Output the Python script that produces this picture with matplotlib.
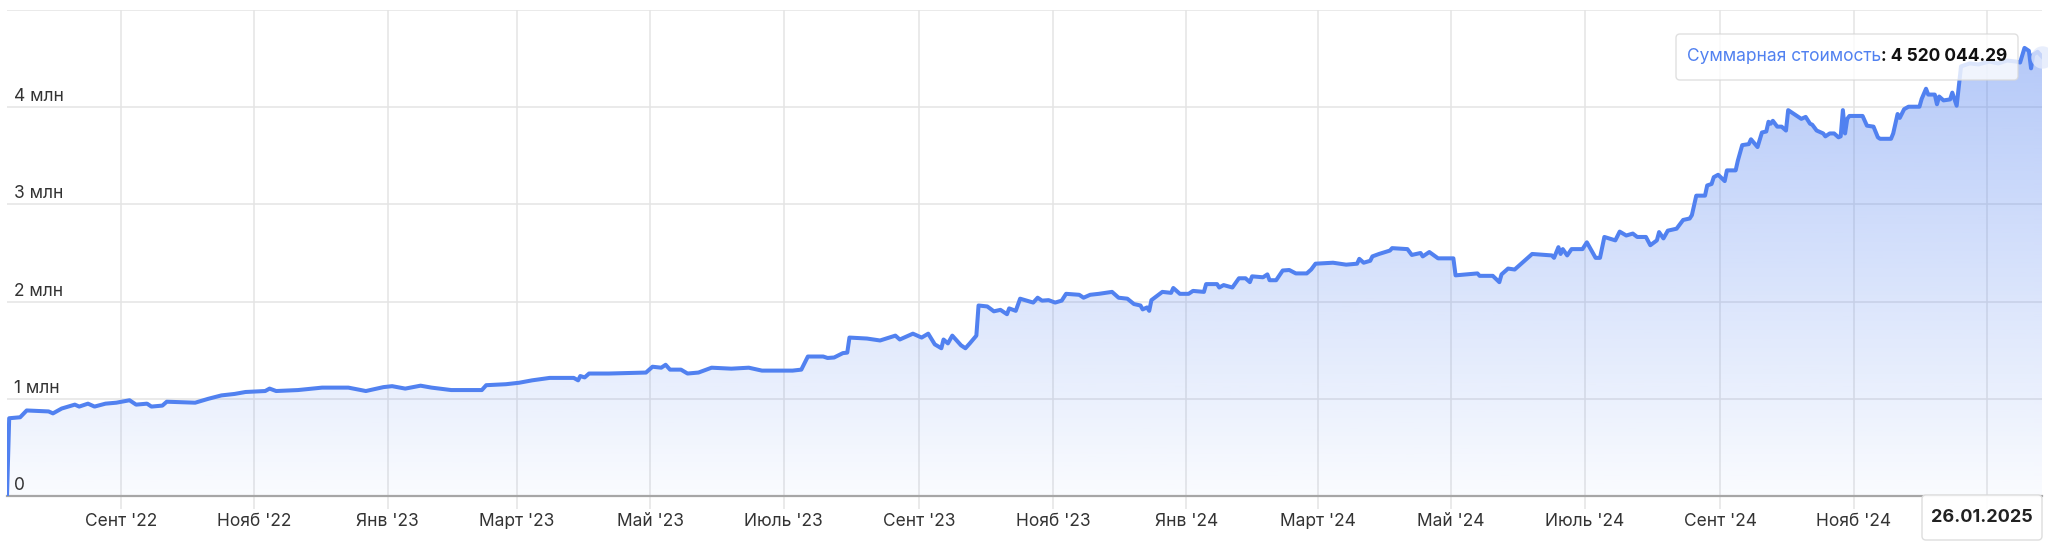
import matplotlib
matplotlib.use("Agg")
import matplotlib.pyplot as plt
import matplotlib.dates as mdates
import matplotlib.transforms as mtransforms
from matplotlib.patches import FancyBboxPatch
import numpy as np
import pandas as pd

plt.rcParams['font.family'] = ['Inter', 'DejaVu Sans']

# portfolio value, millions of rubles
dates = [
    '2022-07-11', '2022-07-12', '2022-07-17', '2022-07-20', '2022-07-30', '2022-08-01',
    '2022-08-05', '2022-08-11', '2022-08-13', '2022-08-17', '2022-08-20', '2022-08-25',
    '2022-08-30', '2022-09-05', '2022-09-08', '2022-09-13', '2022-09-15', '2022-09-20',
    '2022-09-22', '2022-10-05', '2022-10-11', '2022-10-17', '2022-10-23', '2022-10-28',
    '2022-11-06', '2022-11-08', '2022-11-11', '2022-11-21', '2022-12-02', '2022-12-14',
    '2022-12-22', '2022-12-30', '2023-01-03', '2023-01-09', '2023-01-16', '2023-01-21',
    '2023-01-30', '2023-02-13', '2023-02-15', '2023-02-24', '2023-02-28', '2023-03-02',
    '2023-03-08', '2023-03-16', '2023-03-27', '2023-03-29', '2023-03-30', '2023-04-01',
    '2023-04-03', '2023-04-12', '2023-04-29', '2023-05-02', '2023-05-06', '2023-05-08',
    '2023-05-10', '2023-05-15', '2023-05-18', '2023-05-23', '2023-05-29', '2023-06-07',
    '2023-06-15', '2023-06-21', '2023-07-05', '2023-07-09', '2023-07-12', '2023-07-19',
    '2023-07-21', '2023-07-24', '2023-07-28', '2023-07-30', '2023-07-31', '2023-08-08',
    '2023-08-14', '2023-08-21', '2023-08-23', '2023-08-29', '2023-09-02', '2023-09-05',
    '2023-09-08', '2023-09-11', '2023-09-12', '2023-09-14', '2023-09-16', '2023-09-20',
    '2023-09-22', '2023-09-24', '2023-09-27', '2023-09-28', '2023-10-02', '2023-10-05',
    '2023-10-08', '2023-10-11', '2023-10-12', '2023-10-15', '2023-10-17', '2023-10-23',
    '2023-10-25', '2023-10-27', '2023-10-30', '2023-11-02', '2023-11-05', '2023-11-07',
    '2023-11-13', '2023-11-15', '2023-11-18', '2023-11-22', '2023-11-28', '2023-12-01',
    '2023-12-05', '2023-12-08', '2023-12-11', '2023-12-12', '2023-12-14', '2023-12-15',
    '2023-12-16', '2023-12-21', '2023-12-25', '2023-12-26', '2023-12-29', '2024-01-02',
    '2024-01-04', '2024-01-09', '2024-01-10', '2024-01-15', '2024-01-16', '2024-01-18',
    '2024-01-22', '2024-01-25', '2024-01-28', '2024-01-30', '2024-01-31', '2024-02-05',
    '2024-02-07', '2024-02-08', '2024-02-11', '2024-02-14', '2024-02-17', '2024-02-20',
    '2024-02-25', '2024-02-27', '2024-02-29', '2024-03-08', '2024-03-14', '2024-03-19',
    '2024-03-20', '2024-03-22', '2024-03-25', '2024-03-26', '2024-03-29', '2024-04-03',
    '2024-04-04', '2024-04-11', '2024-04-13', '2024-04-17', '2024-04-18', '2024-04-21',
    '2024-04-25', '2024-05-02', '2024-05-03', '2024-05-08', '2024-05-13', '2024-05-14',
    '2024-05-20', '2024-05-23', '2024-05-24', '2024-05-27', '2024-05-30', '2024-06-01',
    '2024-06-03', '2024-06-07', '2024-06-16', '2024-06-17', '2024-06-19', '2024-06-20',
    '2024-06-21', '2024-06-23', '2024-06-25', '2024-06-30', '2024-07-02', '2024-07-04',
    '2024-07-06', '2024-07-08', '2024-07-10', '2024-07-15', '2024-07-17', '2024-07-20',
    '2024-07-23', '2024-07-25', '2024-07-29', '2024-07-31', '2024-08-03', '2024-08-04',
    '2024-08-06', '2024-08-08', '2024-08-12', '2024-08-15', '2024-08-18', '2024-08-19',
    '2024-08-21', '2024-08-25', '2024-08-26', '2024-08-28', '2024-08-29', '2024-08-31',
    '2024-09-03', '2024-09-04', '2024-09-08', '2024-09-09', '2024-09-11', '2024-09-14',
    '2024-09-15', '2024-09-18', '2024-09-20', '2024-09-22', '2024-09-23', '2024-09-24',
    '2024-09-25', '2024-09-27', '2024-09-29', '2024-10-01', '2024-10-02', '2024-10-06',
    '2024-10-08', '2024-10-10', '2024-10-12', '2024-10-13', '2024-10-15', '2024-10-18',
    '2024-10-19', '2024-10-21', '2024-10-23', '2024-10-25', '2024-10-26', '2024-10-27',
    '2024-10-28', '2024-10-29', '2024-10-30', '2024-11-05', '2024-11-07', '2024-11-10',
    '2024-11-12', '2024-11-13', '2024-11-18', '2024-11-19', '2024-11-21', '2024-11-22',
    '2024-11-24', '2024-11-26', '2024-12-01', '2024-12-02', '2024-12-04', '2024-12-05',
    '2024-12-08', '2024-12-09', '2024-12-10', '2024-12-12', '2024-12-15', '2024-12-16',
    '2024-12-18', '2024-12-20', '2024-12-24', '2024-12-28', '2025-01-02', '2025-01-06',
    '2025-01-10', '2025-01-14', '2025-01-16', '2025-01-18', '2025-01-20', '2025-01-21',
    '2025-01-22', '2025-01-24', '2025-01-26',
]
values_mln = [
    0.00, 0.80, 0.81, 0.88, 0.87, 0.85,
    0.90, 0.94, 0.92, 0.95, 0.92, 0.95,
    0.96, 0.985, 0.94, 0.95, 0.92, 0.93,
    0.97, 0.96, 1.00, 1.035, 1.05, 1.07,
    1.08, 1.105, 1.08, 1.09, 1.115, 1.115,
    1.08, 1.12, 1.13, 1.105, 1.135, 1.115,
    1.09, 1.09, 1.14, 1.15, 1.16, 1.165,
    1.19, 1.215, 1.215, 1.19, 1.234, 1.22,
    1.26, 1.26, 1.27, 1.33, 1.32, 1.35,
    1.30, 1.30, 1.26, 1.27, 1.32, 1.31,
    1.32, 1.29, 1.29, 1.30, 1.435, 1.435,
    1.42, 1.425, 1.47, 1.475, 1.63, 1.62,
    1.60, 1.65, 1.61, 1.67, 1.63, 1.67,
    1.56, 1.52, 1.61, 1.57, 1.65, 1.55,
    1.52, 1.57, 1.65, 1.96, 1.95, 1.90,
    1.915, 1.87, 1.93, 1.905, 2.03, 1.99,
    2.04, 2.01, 2.015, 1.99, 2.01, 2.08,
    2.07, 2.04, 2.07, 2.08, 2.10, 2.04,
    2.03, 1.975, 1.96, 1.92, 1.94, 1.905,
    2.015, 2.10, 2.09, 2.14, 2.08, 2.08,
    2.11, 2.10, 2.18, 2.18, 2.145, 2.17,
    2.145, 2.24, 2.24, 2.20, 2.26, 2.25,
    2.28, 2.22, 2.22, 2.32, 2.325, 2.29,
    2.29, 2.33, 2.39, 2.40, 2.38, 2.39,
    2.44, 2.40, 2.42, 2.465, 2.49, 2.525,
    2.55, 2.54, 2.48, 2.50, 2.465, 2.51,
    2.445, 2.445, 2.27, 2.28, 2.29, 2.265,
    2.265, 2.20, 2.28, 2.34, 2.33, 2.37,
    2.41, 2.49, 2.475, 2.45, 2.56, 2.49,
    2.54, 2.475, 2.54, 2.54, 2.61, 2.53,
    2.45, 2.45, 2.665, 2.63, 2.72, 2.68,
    2.70, 2.665, 2.665, 2.58, 2.63, 2.715,
    2.65, 2.73, 2.75, 2.84, 2.855, 2.89,
    3.09, 3.09, 3.195, 3.21, 3.28, 3.305,
    3.24, 3.35, 3.35, 3.45, 3.61, 3.62,
    3.67, 3.59, 3.74, 3.75, 3.85, 3.83,
    3.86, 3.80, 3.80, 3.76, 3.97, 3.91,
    3.88, 3.90, 3.83, 3.82, 3.76, 3.73,
    3.70, 3.73, 3.73, 3.69, 3.70, 3.97,
    3.73, 3.88, 3.91, 3.91, 3.81, 3.80,
    3.69, 3.675, 3.675, 3.73, 3.93, 3.89,
    3.98, 4.005, 4.005, 4.085, 4.19, 4.13,
    4.13, 4.03, 4.11, 4.07, 4.08, 4.15,
    4.015, 4.42, 4.45, 4.44, 4.47, 4.45,
    4.48, 4.47, 4.46, 4.61, 4.58, 4.40,
    4.54, 4.57, 4.52,
]

# month gridlines; the last one (Jan '25) has its label hidden under the date box
tick_dates = ['2022-09-01', '2022-11-01', '2023-01-01', '2023-03-01', '2023-05-01',
              '2023-07-01', '2023-09-01', '2023-11-01', '2024-01-01', '2024-03-01',
              '2024-05-01', '2024-07-01', '2024-09-01', '2024-11-01', '2025-01-01']
tick_labels = ["Сент '22", "Нояб '22", "Янв '23", "Март '23", "Май '23",
               "Июль '23", "Сент '23", "Нояб '23", "Янв '24", "Март '24",
               "Май '24", "Июль '24", "Сент '24", "Нояб '24", ""]

y_ticks = [0, 1, 2, 3, 4]
y_labels = ['0', '1 млн', '2 млн', '3 млн', '4 млн']

hover_name = 'Суммарная стоимость'
hover_value = '4 520 044.29'
hover_date = '26.01.2025'

line_color = '#5181f0'
grid_color = '#e4e4e4'
text_color = '#333333'

x = pd.to_datetime(dates)
xn = mdates.date2num(x)
vals = np.array(values_mln)

fig = plt.figure(figsize=(20.48, 5.47), dpi=100)
ax = fig.add_axes([7 / 2048, 51 / 547, 2035 / 2048, 486 / 547])
ax.set_xlim(xn[0], xn[-1])
ax.set_ylim(0, 5)

# gradient under the line, clipped to the area
alpha = np.linspace(0.03, 0.46, 256)
rgba = np.zeros((256, 1, 4))
rgba[:, 0, 0] = 80 / 255
rgba[:, 0, 1] = 128 / 255
rgba[:, 0, 2] = 240 / 255
rgba[:, 0, 3] = alpha
img = ax.imshow(rgba, extent=[xn[0], xn[-1], 0, 5], aspect='auto', origin='lower', zorder=1)
area = ax.fill_between(xn, vals, 0, facecolor='none', edgecolor='none')
img.set_clip_path(area.get_paths()[0], transform=ax.transData)

ax.plot(xn, vals, color=line_color, lw=2.9, zorder=3, solid_joinstyle='round')
ax.scatter([xn[-1]], [vals[-1]], s=260, color='#e3eafc', alpha=0.8, zorder=4, clip_on=False, linewidths=0)

# grid and axes
ax.set_yticks([0, 1, 2, 3, 4, 5])
ax.set_yticklabels([])
ax.tick_params(axis='y', length=0)
ax.set_xticks(mdates.date2num(pd.to_datetime(tick_dates)))
ax.set_xticklabels(tick_labels, fontsize=12.5, color=text_color)
ax.tick_params(axis='x', length=9.5, color=grid_color, width=1.1, pad=3)
ax.grid(True, color=grid_color, lw=1.1, zorder=0)
ax.set_axisbelow(True)
for s in ['top', 'left', 'right']:
    ax.spines[s].set_visible(False)
ax.spines['bottom'].set_color('#a6a6a6')
ax.spines['bottom'].set_linewidth(1.6)

off = mtransforms.ScaledTranslation(7 / 100, 2 / 100, fig.dpi_scale_trans)
for v, lab in zip(y_ticks, y_labels):
    ax.text(0, v, lab, transform=ax.get_yaxis_transform() + off,
            ha='left', va='bottom', fontsize=12.5, color=text_color, zorder=5)

# tooltip
tip = FancyBboxPatch((16.76, 4.67), 3.42, 0.46, boxstyle='round,pad=0,rounding_size=0.04',
                     transform=fig.dpi_scale_trans, facecolor='white', alpha=0.8,
                     edgecolor='#d8d8d8', lw=1.0, zorder=10, clip_on=False)
ax.add_patch(tip)
t1 = ax.text(16.87, 4.90, hover_name, transform=fig.dpi_scale_trans, color=line_color,
             fontsize=12.5, va='center', ha='left', zorder=11, clip_on=False)
ax.annotate(': ' + hover_value, xy=(1, 0), xycoords=t1, va='bottom', ha='left',
            fontsize=12.5, fontweight='bold', color='#111111', zorder=11,
            annotation_clip=False)

# date label on the x axis
dbox = FancyBboxPatch((19.22, 0.07), 1.20, 0.45, boxstyle='round,pad=0,rounding_size=0.04',
                      transform=fig.dpi_scale_trans, facecolor='white', alpha=0.95,
                      edgecolor='#dcdcdc', lw=1.0, zorder=10, clip_on=False)
ax.add_patch(dbox)
ax.text(19.82, 0.30, hover_date, transform=fig.dpi_scale_trans, ha='center', va='center',
        fontsize=13, fontweight='bold', color='#222222', zorder=11, clip_on=False)

fig.savefig('out.png', dpi=100)
